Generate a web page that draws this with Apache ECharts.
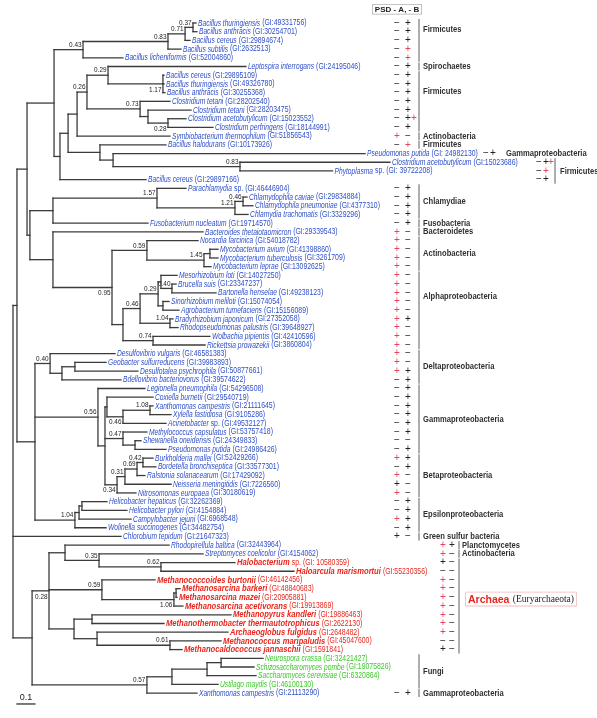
<!DOCTYPE html>
<html>
<head>
<meta charset="utf-8">
<script src="https://cdn.jsdelivr.net/npm/echarts@6.0.0/dist/echarts.min.js"></script>
<style>html,body{margin:0;padding:0;background:#fff;}#chart{width:597px;height:718px;}</style>
</head>
<body>
<div id="chart"></div>
<script>
// ================= DATA =================
const leafNames = [
 'Bacillus thuringiensis','Bacillus anthracis','Bacillus cereus','Bacillus subtilis','Bacillus licheniformis',
 'Leptospira interrogans','Bacillus cereus','Bacillus thuringiensis','Bacillus anthracis','Clostridium tetani',
 'Clostridium tetani','Clostridium acetobutylicum','Clostridium perfringens','Symbiobacterium thermophilum','Bacillus halodurans',
 'Pseudomonas putida','Clostridium acetobutylicum','Phytoplasma sp.','Bacillus cereus','Parachlamydia sp.',
 'Chlamydophila caviae','Chlamydophila pneumoniae','Chlamydia trachomatis','Fusobacterium nucleatum','Bacteroides thetaiotaomicron',
 'Nocardia farcinica','Mycobacterium avium','Mycobacterium tuberculosis','Mycobacterium leprae','Mesorhizobium loti',
 'Brucella suis','Bartonella henselae','Sinorhizobium meliloti','Agrobacterium tumefaciens','Bradyrhizobium japonicum',
 'Rhodopseudomonas palustris','Wolbachia pipientis','Rickettsia prowazekii','Desulfovibrio vulgaris','Geobacter sulfurreducens',
 'Desulfotalea psychrophila','Bdellovibrio bacteriovorus','Legionella pneumophila','Coxiella burnetii','Xanthomonas campestris',
 'Xylella fastidiosa','Acinetobacter sp.','Methylococcus capsulatus','Shewanella oneidensis','Pseudomonas putida',
 'Burkholderia mallei','Bordetella bronchiseptica','Ralstonia solanacearum','Neisseria meningitidis','Nitrosomonas europaea',
 'Helicobacter hepaticus','Helicobacter pylori','Campylobacter jejuni','Wolinella succinogenes','Chlorobium tepidum',
 'Rhodopirellula baltica','Streptomyces coelicolor','Halobacterium sp.','Haloarcula marismortui','Methanococcoides burtonii',
 'Methanosarcina barkeri','Methanosarcina mazei','Methanosarcina acetivorans','Methanopyrus kandleri','Methanothermobacter thermautotrophicus',
 'Archaeoglobus fulgidus','Methanococcus maripaludis','Methanocaldococcus jannaschii','Neurospora crassa','Schizosaccharomyces pombe',
 'Saccharomyces cerevisiae','Ustilago maydis','Xanthomonas campestris'
];
const leafGI = [
 '(GI:49331756)','(GI:30254701)','(GI:29894674)','(GI:2632513)','(GI:52004860)',
 '(GI:24195046)','(GI:29895109)','(GI:49326780)','(GI:30255368)','(GI:28202540)',
 '(GI:28203475)','(GI:15023552)','(GI:18144991)','(GI:51856543)','(GI:10173926)',
 '(GI: 24982130)','(GI:15023686)','(GI: 39722208)','(GI:29897166)','(GI:46446904)',
 '(GI:29834884)','(GI:4377310)','(GI:3329296)','(GI:19714570)','(GI:29339543)',
 '(GI:54018782)','(GI:41398860)','(GI:3261709)','(GI:13092625)','(GI:14027250)',
 '(GI:23347237)','(GI:49238123)','(GI:15074054)','(GI:15156089)','(GI:27352058)',
 '(GI:39648927)','(GI:42410596)','(GI:3860804)','(GI:46581383)','(GI:39983893)',
 '(GI:50877661)','(GI:39574622)','(GI:54296508)','(GI:29540719)','(GI:21111645)',
 '(GI:9105286)','(GI:49532127)','(GI:53757418)','(GI:24349833)','(GI:24986426)',
 '(GI:52429266)','(GI:33577301)','(GI:17429092)','(GI:7226560)','(GI:30180619)',
 '(GI:32262369)','(GI:4154884)','(GI:6968548)','(GI:34482754)','(GI:21647323)',
 '(GI:32443964)','(GI:4154062)','(GI: 10580359)','(GI:55230356)','(GI:46142456)',
 '(GI:48840683)','(GI:20905881)','(GI:19913869)','(GI:19886463)','(GI:2622130)',
 '(GI:2648482)','(GI:45047600)','(GI:1591841)','(GI:32421427)','(GI:19075826)',
 '(GI:6320864)','(GI:46100130)','(GI:21113290)'
];
// b = bacteria (blue), r = archaea (red), g = fungi (green)
const leafKind = 'bbbbbbbbbbbbbbbbbbbbbbbbbbbbbbbbbbbbbbbbbbbbbbbbbbbbbbbbbbbbbbrrrrrrrrrrrggggb'.split('');
// distance from root to each tip (substitutions/site)
const leafDepth = [
 1.017,1.022,0.983,0.933,0.611,1.294,0.839,0.839,0.844,0.872,
 0.989,0.961,1.111,0.872,0.85,1.956,2.094,1.775,0.739,0.961,
 1.3,1.333,1.306,0.75,1.056,1.028,1.139,1.139,1.1,0.911,
 0.906,1.128,0.867,0.922,0.889,0.917,1.094,1.067,0.567,0.517,
 0.694,0.6,0.733,0.778,0.778,0.878,0.85,0.744,0.711,0.85,
 0.778,0.794,0.733,0.878,0.683,0.522,0.633,0.656,0.517,0.6,
 0.867,1.056,1.233,1.561,0.789,0.928,0.911,0.944,1.211,0.839,
 1.194,1.156,0.939,1.389,1.339,1.35,1.139,1.022
];
// internal nodes: [id, distance from root, support value, children (tip numbers or node ids)]
const treeNodes = [
 ['A',1.0,'0.37',1,2], ['B',0.956,'0.71','A',3], ['C',0.861,'0.83','B',4], ['D',0.389,'0.43','C',5],
 ['N7',0.833,'1.17',7,8,9], ['E',0.528,'0.29',6,'N7'], ['I',0.861,'0.28',12,13], ['J',0.75,'',11,'I'],
 ['H',0.706,'0.73',10,'J'], ['F',0.411,'0.26','E','H'], ['G',0.356,'','F',14],
 ['N240',1.261,'0.83',17,18], ['N113',0.556,'',16,'N240'], ['N100',0.483,'',15,'N113'],
 ['K',0.306,'','G','N100'], ['M',0.261,'','K',19], ['L',0.228,'','D','M'],
 ['Q1',1.278,'0.46',21,22], ['Q2',1.233,'1.21','Q1',23], ['Q3',0.8,'1.57',20,'Q2'], ['R',0.222,'','Q3',24],
 ['S1',1.094,'',27,28], ['S2',1.061,'1.45','S1',29], ['S3',0.744,'0.59',26,'S2'],
 ['X1',0.883,'0.40',31,32], ['X2',0.822,'',30,'X1'], ['X3',0.833,'',33,34], ['X4',0.806,'0.29','X2','X3'],
 ['V',0.872,'1.04',35,36], ['X5',0.706,'0.46','X4','V'], ['W',0.778,'0.74',37,38], ['X6',0.611,'','X5','W'],
 ['T',0.55,'0.95','S3','X6'], ['Y',0.222,'',25,'T'], ['N30',0.094,'','R','Y'], ['P',0.078,'','L','N30'],
 ['D1',0.344,'',40,41], ['D3',0.272,'','D1',42], ['D2',0.206,'0.40',39,'D3'],
 ['X1g',0.761,'1.08',45,46], ['X2g',0.611,'0.46','X1g',47], ['X3g',0.522,'',44,'X2g'],
 ['G1',0.678,'',49,50], ['G2',0.611,'0.47',48,'G1'],
 ['B1',0.722,'0.42',51,52], ['B2',0.689,'0.69','B1',53], ['B3',0.622,'0.31','B2',54], ['B4',0.578,'0.34','B3',55],
 ['GP',0.511,'','X3g','G2','B4'], ['GB',0.472,'0.56',43,'GP'],
 ['E1',0.383,'',56,57], ['E2',0.367,'','E1',58], ['E3',0.344,'1.04','E2',59],
 ['N35',0.122,'','D2','GB','E3'], ['Q17',0.022,'','P','N35'],
 ['H1',0.822,'0.62',63,64], ['H2',0.478,'0.35',62,'H1'], ['H3',0.289,'',61,'H2'],
 ['M1',0.906,'',66,67], ['M2',0.894,'1.06','M1',68], ['M3',0.494,'0.59',65,'M2'],
 ['MP',0.439,'',69,70], ['MC',0.872,'0.61',72,73], ['AG',0.467,'',71,'MC'], ['Ar1',0.339,'','MP','AG'],
 ['Z1',0.2,'0.28','H3','M3','Ar1'],
 ['F1',1.156,'',74,75], ['F2',1.078,'','F1',76], ['F3',0.883,'','F2',77], ['F4',0.744,'0.57','F3',78],
 ['Z2',0.106,'','Z1','F4'], ['root',0,'','Q17',60,'Z2']
];
// PSD / A / B presence per tip: M = minus, P = plus, R = plus (red)
const signs = [
 'MP','MP','MP','MR','MR','MP','MP','MP','MP','MP',
 'MP','MPR','MP','RM','MR','MP','MPR','MR','MP','MP',
 'MP','MP','MP','MP','RM','RM','RM','RM','RM','RM',
 'RM','RM','RM','RM','RP','RM','RM','RM','RM','RM',
 'RP','MP','MP','MP','MP','MP','MP','MP','MM','MP',
 'RP','MP','RM','PM','RM','MP','MP','RP','MP','PM',
 'RP','RM','PM','MM','RM','RM','RM','RM','RM','RM',
 'RM','MM','PM','','','','','MP'
];
const groupNames = ['Firmicutes','Spirochaetes','Firmicutes','Actinobacteria','Firmicutes','Gammaproteobacteria','Firmicutes',
 'Chlamydiae','Fusobacteria','Bacteroidetes','Actinobacteria','Alphaproteobacteria','Deltaproteobacteria','Gammaproteobacteria',
 'Betaproteobacteria','Epsilonproteobacteria','Green sulfur bacteria','Planctomycetes','Actinobacteria','Archaea (Euryarchaeota)',
 'Fungi','Gammaproteobacteria'];
const groupFirst = [1,6,7,14,15,16,17,20,24,25,26,30,39,43,51,56,60,61,62,63,74,78];
const groupLast  = [5,6,13,14,15,16,19,23,24,25,29,38,42,50,55,59,60,61,62,73,77,78];
const headerText = 'PSD - A, - B';
const scaleBarValue = 0.1;

// ================= LAYOUT / STYLE =================
const FONT = '"Liberation Sans", Arial, sans-serif';
const C = { blue:'#2e4fc9', red:'#e8261c', green:'#3cc72b', pink:'#e6435f', line:'#3b3b3b', bar:'#9a9a9a', dark:'#303030' };
const cols = {              // sign x positions, bracket x, label x
  main: { s:[397,408,414], bar:419, label:423 },
  c16:  { s:[486,493,499], bar:null, label:506 },
  c17:  { s:[539,546,551], bar:555, label:560 },
  c61:  { s:[443,452,458], bar:459, label:462 }
};
const groupCol = {5:'c16', 6:'c17', 17:'c61', 18:'c61', 19:'c61'};
const groupLabelShift = {0:-1.3, 2:-1.15, 11:-1.6, 19:-0.8};
const labelBelow = ['N7','I','T','X2g','B4','M2','Z1'];

// ================= TREE LAYOUT =================
const nodeMap = {};
treeNodes.forEach(n => nodeMap[n[0]] = { id:n[0], depth:n[1], boot:n[2], kids:n.slice(3) });
const allNodes = [];
function build(ref, parentDepth) {
  if (typeof ref === 'number') {
    const o = { leaf: ref, depth: leafDepth[ref-1], y: ref, parentDepth };
    allNodes.push(o); return o;
  }
  const n = nodeMap[ref];
  const kids = n.kids.map(k => build(k, n.depth));
  const o = { id: ref, depth: n.depth, boot: n.boot, y1: kids[0].y, y2: kids[kids.length-1].y,
              y: (kids[0].y + kids[kids.length-1].y) / 2, parentDepth };
  allNodes.push(o); return o;
}
build('root', null);

const leafCol = new Array(78).fill('main');
groupFirst.forEach((f, gi) => { for (let i = f; i <= groupLast[gi]; i++) leafCol[i-1] = groupCol[gi] || 'main'; });

const mctx = document.createElement('canvas').getContext('2d');
function measure(t, font) { mctx.font = font; return mctx.measureText(t).width; }
function ln(x1,y1,x2,y2,stroke,w) {
  return { type:'line', shape:{x1,y1,x2,y2}, style:{stroke, lineWidth:w, lineCap:'square'} };
}
function tx(x, y, text, font, fill, sx, align, valign) {
  return { type:'text', x, y, scaleX: sx || 1,
    style:{ text, font, fill, align: align||'left', textAlign: align||'left',
            verticalAlign: valign||'middle', textVerticalAlign: valign||'middle' } };
}

const SP_FONT = 'italic 9.5px ' + FONT, SP_FONT_R = 'italic bold 9.5px ' + FONT;
const GI_FONT = '8.5px ' + FONT;
const SP_SX = 0.70, SP_SX_R = 0.80, GI_SX = 0.81;

function leafLabel(i, px, py) {
  const kind = leafKind[i];
  const color = kind === 'r' ? C.red : kind === 'g' ? C.green : C.blue;
  let name = leafNames[i], extra = '';
  if (name.endsWith(' sp.')) { extra = 'sp.'; name = name.slice(0, -4); }
  const f = kind === 'r' ? SP_FONT_R : SP_FONT, sx = kind === 'r' ? SP_SX_R : SP_SX;
  const els = [];
  let x = px + 2;
  els.push(tx(x, py, name, f, color, sx));
  x += measure(name, f) * sx + 2;
  if (extra) { els.push(tx(x, py, extra, GI_FONT, color, GI_SX)); x += measure(extra, GI_FONT) * GI_SX + 2; }
  els.push(tx(x, py, leafGI[i], GI_FONT, color, GI_SX));
  return els;
}

function renderTree(params, api) {
  const o = allNodes[params.dataIndex];
  const p = api.coord([o.depth, o.y]);
  const ch = [];
  if (o.parentDepth !== null) {
    const q = api.coord([o.parentDepth, o.y]);
    ch.push(ln(q[0], p[1], p[0], p[1], C.line, 1.3));
  }
  if (o.leaf === undefined) {
    const a = api.coord([o.depth, o.y1]), b = api.coord([o.depth, o.y2]);
    ch.push(ln(p[0], a[1], p[0], b[1], C.line, 1.3));
    if (o.boot) {
      const below = labelBelow.indexOf(o.id) >= 0;
      ch.push(tx(p[0] - 1.5, below ? p[1] + 1.5 : p[1] - 1, o.boot, '8px ' + FONT, '#222', 0.8, 'right', below ? 'top' : 'bottom'));
    }
  } else {
    ch.push(...leafLabel(o.leaf - 1, p[0], p[1]));
  }
  return { type:'group', children: ch };
}

function renderSigns(params, api) {
  const i = params.dataIndex;
  const s = signs[i];
  const py = api.coord([0, i + 1])[1];
  const col = cols[leafCol[i]];
  const ch = [];
  for (let k = 0; k < s.length; k++) {
    const c = s[k];
    const t = c === 'M' ? '\u2212' : '+';
    ch.push(tx(col.s[k], py, t, '10px ' + FONT, c === 'R' ? C.pink : '#222', 1, 'center', 'middle'));
  }
  return { type:'group', children: ch };
}

function renderGroups(params, api) {
  const g = params.dataIndex;
  const col = cols[groupCol[g] || 'main'];
  const y1 = api.coord([0, groupFirst[g]])[1], y2 = api.coord([0, groupLast[g]])[1];
  const ch = [];
  if (col.bar !== null) ch.push({ type:'line', shape:{x1:col.bar, y1:y1-4, x2:col.bar, y2:y2+4},
                                  style:{stroke:C.bar, lineWidth:1.6} });
  const yc = api.coord([0, (groupFirst[g] + groupLast[g]) / 2 + (groupLabelShift[g] || 0)])[1];
  const name = groupNames[g];
  if (name.indexOf(' (') > 0) {
    const parts = name.split(' (');
    ch.push({ type:'text', x: col.label + 4, y: yc,
      style:{ text: '{a|' + parts[0] + '} {b|(' + parts[1] + '}', align:'left', verticalAlign:'middle',
        textAlign:'left', textVerticalAlign:'middle',
        borderColor:'#f2b8b8', borderWidth:0.8, padding:[1,2,0,2], backgroundColor:'#fff',
        rich:{ a:{ font:'bold 10.5px ' + FONT, fill:C.red, color:C.red },
               b:{ font:'9.5px "Liberation Serif", serif', fill:'#222', color:'#222' } } } });
  } else {
    ch.push(tx(col.label, yc, name, 'bold 9.5px ' + FONT, C.dark, 0.8, 'left', 'middle'));
  }
  return { type:'group', children: ch };
}

function renderScale(params, api) {
  const a = api.coord([0.022, 79.25]), b = api.coord([0.022 + scaleBarValue, 79.25]);
  return { type:'group', children:[
    ln(a[0], a[1], b[0], b[1], '#222', 1.2),
    tx((a[0] + b[0]) / 2, a[1] - 2, String(scaleBarValue), '9px ' + FONT, '#222', 1, 'center', 'bottom')
  ]};
}

// ================= CHART =================
const chart = echarts.init(document.getElementById('chart'), null, { renderer:'canvas' });
chart.setOption({
  animation: false,
  backgroundColor: '#fff',
  grid: { left: 13, width: 540, top: 23, bottom: 718 - 23 - 79 * 8.7026 },
  xAxis: { type:'value', min:0, max:3, show:false },
  yAxis: { type:'value', min:1, max:80, inverse:true, show:false },
  graphic: [{ type:'text', left: 372, top: 4,
    style:{ text: headerText, font:'bold 8px ' + FONT, fill:'#222', backgroundColor:'#fff',
            borderColor:'#b0b0b0', borderWidth:0.8, padding:[1,2,0,2] } }],
  series: [
    { type:'custom', coordinateSystem:'cartesian2d', clip:false, silent:true,
      data: allNodes.map(o => [o.depth, o.y]), renderItem: renderTree },
    { type:'custom', coordinateSystem:'cartesian2d', clip:false, silent:true,
      data: signs.map((s, i) => [0, i + 1]), renderItem: renderSigns },
    { type:'custom', coordinateSystem:'cartesian2d', clip:false, silent:true,
      data: groupNames.map((n, g) => [0, groupFirst[g]]), renderItem: renderGroups },
    { type:'custom', coordinateSystem:'cartesian2d', clip:false, silent:true,
      data: [[0.022, 79.25]], renderItem: renderScale }
  ]
});
</script>
</body>
</html>
